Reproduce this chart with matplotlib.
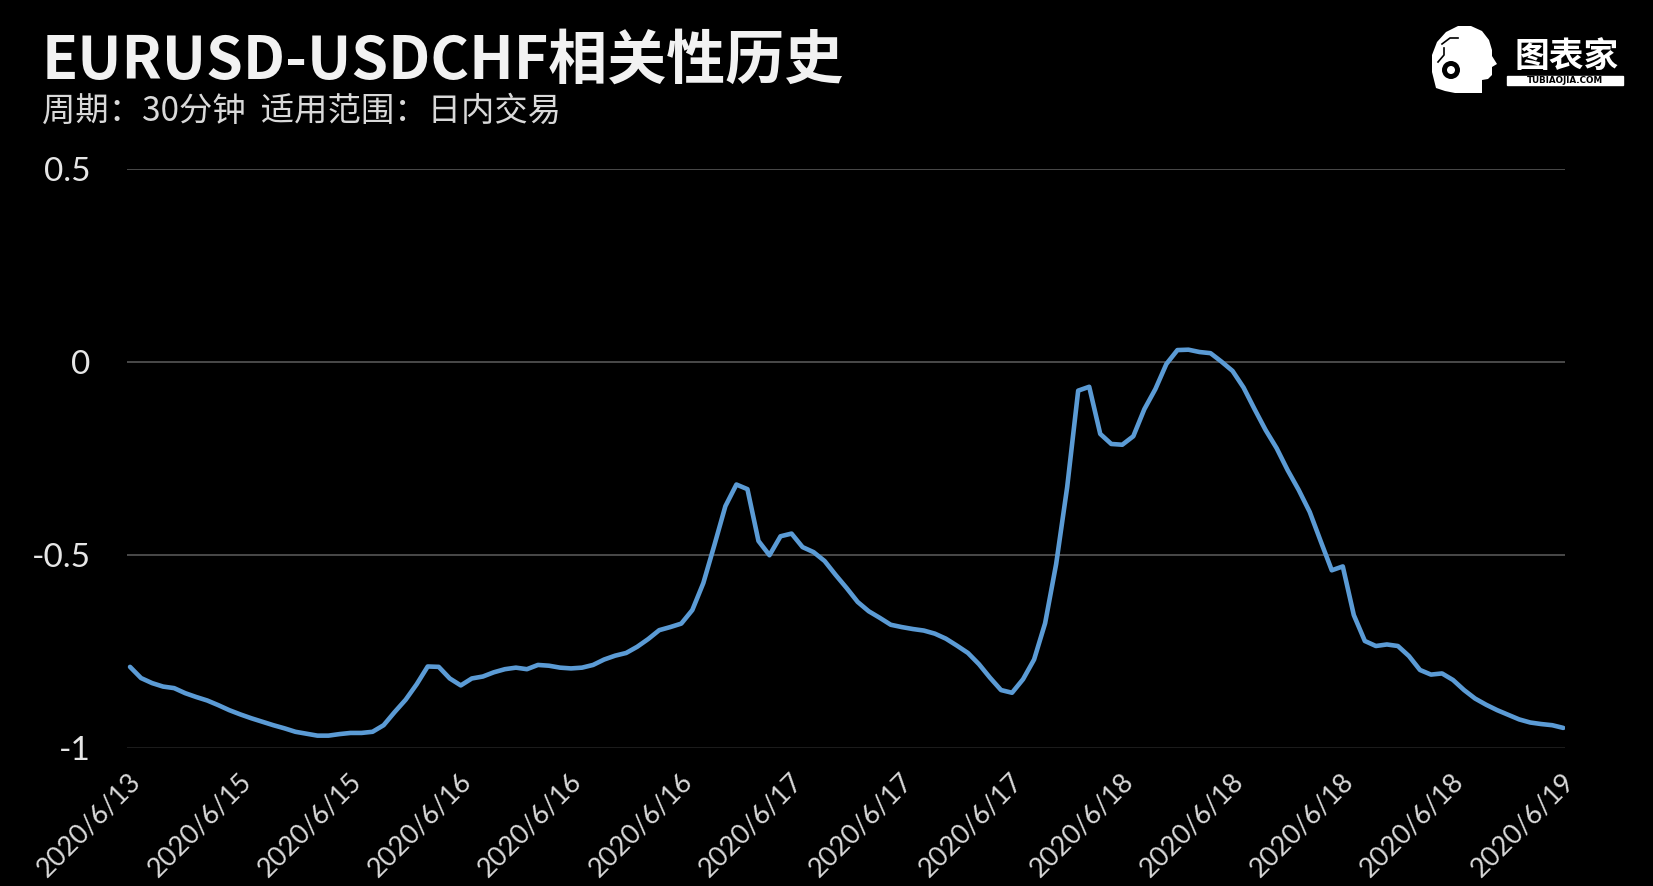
import matplotlib
matplotlib.use('Agg')
import matplotlib.pyplot as plt
from matplotlib.patches import Circle, Rectangle, Polygon
import matplotlib.transforms as mtransforms

# ---------------- data ----------------
corr_values = [
    -0.790, -0.819, -0.832, -0.841, -0.845, -0.858, -0.868, -0.877, -0.889, -0.902,
    -0.913, -0.923, -0.932, -0.941, -0.949, -0.958, -0.963, -0.968, -0.968, -0.964,
    -0.961, -0.961, -0.958, -0.941, -0.907, -0.875, -0.835, -0.789, -0.790, -0.820,
    -0.838, -0.820, -0.815, -0.804, -0.796, -0.792, -0.796, -0.785, -0.787, -0.792,
    -0.794, -0.792, -0.785, -0.771, -0.761, -0.754, -0.738, -0.718, -0.695, -0.687,
    -0.678, -0.643, -0.573, -0.475, -0.374, -0.318, -0.330, -0.464, -0.501, -0.452,
    -0.445, -0.480, -0.493, -0.516, -0.552, -0.586, -0.622, -0.646, -0.663, -0.681,
    -0.687, -0.692, -0.696, -0.704, -0.717, -0.735, -0.754, -0.783, -0.818, -0.850,
    -0.857, -0.822, -0.771, -0.677, -0.524, -0.325, -0.075, -0.065, -0.187, -0.213,
    -0.215, -0.193, -0.123, -0.071, -0.006, 0.030, 0.031, 0.025, 0.022, 0.000,
    -0.024, -0.067, -0.123, -0.177, -0.224, -0.281, -0.332, -0.389, -0.465, -0.540,
    -0.530, -0.656, -0.723, -0.736, -0.732, -0.736, -0.762, -0.798, -0.810, -0.807,
    -0.824, -0.850, -0.872, -0.888, -0.902, -0.914, -0.926, -0.934, -0.938, -0.941,
    -0.948,
]
tick_every = 10
x_tick_labels = ['2020/6/13', '2020/6/15', '2020/6/15', '2020/6/16', '2020/6/16',
                 '2020/6/16', '2020/6/17', '2020/6/17', '2020/6/17', '2020/6/18',
                 '2020/6/18', '2020/6/18', '2020/6/18', '2020/6/19']
y_ticks = [-1, -0.5, 0, 0.5]
y_tick_labels = ['-1', '-0.5', '0', '0.5']
title_text = 'EURUSD-USDCHF相关性历史'
subtitle_text = '周期：30分钟  适用范围：日内交易'

# ---------------- figure ----------------
W, H = 1653, 886
DPI = 100
fig = plt.figure(figsize=(W / DPI, H / DPI), dpi=DPI, facecolor='black')

ax_l, ax_r, ax_t, ax_b = 126.5, 1565.5, 168.5, 748.0
ax = fig.add_axes([ax_l / W, 1 - ax_b / H, (ax_r - ax_l) / W, (ax_b - ax_t) / H])
ax.set_facecolor('black')

xs = list(range(len(corr_values)))
ax.plot(xs, corr_values, color='#5b9bd5', lw=3.3, solid_joinstyle='round',
        solid_capstyle='round', zorder=3)

ax.set_ylim(-1, 0.5)
ax.set_xlim(-0.32, len(corr_values) - 1 + 0.2)

for s in ax.spines.values():
    s.set_visible(False)

ax.set_yticks(y_ticks)
ax.set_yticklabels(y_tick_labels, family=['Lato', 'DejaVu Sans'], fontsize=24,
                   color='#e6e6e6')
ax.tick_params(axis='y', length=0, pad=26)
ax.yaxis.grid(True, color='#4a4a4a', lw=1.4)
gl = ax.get_ygridlines()
gl[0].set_color('#1c1c1c')

tick_pos = [i * tick_every for i in range(len(x_tick_labels))]
ax.set_xticks(tick_pos)
ax.set_xticklabels(x_tick_labels, rotation=45, ha='right', va='top',
                   rotation_mode='anchor', family=['Lato', 'DejaVu Sans'],
                   fontsize=19.5, color='#d9d9d9')
ax.tick_params(axis='x', length=0, pad=15)
offset = mtransforms.ScaledTranslation(-2 / DPI, 0, fig.dpi_scale_trans)
for lab in ax.get_xticklabels():
    lab.set_transform(lab.get_transform() + offset)

# ---------------- titles ----------------
cjk = ['Noto Sans CJK SC', 'DejaVu Sans']
fig.text(42 / W, 1 - 79 / H, title_text, family=cjk, fontweight='bold',
         fontsize=42.5, color='#f2f2f2', ha='left', va='baseline')
fig.text(42 / W, 1 - 121 / H, subtitle_text, family=cjk, fontsize=24,
         color='#d9d9d9', ha='left', va='baseline')

# ---------------- logo ----------------
lax = fig.add_axes([1425 / W, 1 - 97 / H, 205 / W, 72 / H])
lax.set_xlim(1425, 1630)
lax.set_ylim(97, 25)
lax.axis('off')
head = [(1436, 88), (1432, 72), (1432, 55), (1437, 42), (1446, 32), (1458, 26),
        (1471, 26), (1482, 31), (1489, 40), (1492, 50), (1492, 56), (1497, 64),
        (1492, 67), (1492, 75), (1488, 79), (1482, 80), (1482, 93), (1455, 93),
        (1445, 91)]
lax.add_patch(Polygon(head, closed=True, facecolor='white', edgecolor='none'))
lax.add_patch(Circle((1451, 70), 9, facecolor='black', edgecolor='none'))
lax.add_patch(Circle((1451, 70), 4, facecolor='white', edgecolor='none'))
lax.plot([1438, 1444, 1444], [62, 55, 48], color='black', lw=1.2)
lax.plot([1442, 1450, 1458], [44, 38, 38], color='black', lw=1.2)
lax.text(1567, 56, '图表家', family=cjk, fontweight='bold', fontsize=25,
         color='white', ha='center', va='center')
lax.add_patch(Rectangle((1507, 76), 116, 9, color='white'))
lax.text(1565, 80.8, 'TUBIAOJIA.COM', family=['DejaVu Sans'], fontweight='bold',
         fontsize=6.3, color='black', ha='center', va='center')

fig.savefig('out.png', dpi=DPI, facecolor='black')
